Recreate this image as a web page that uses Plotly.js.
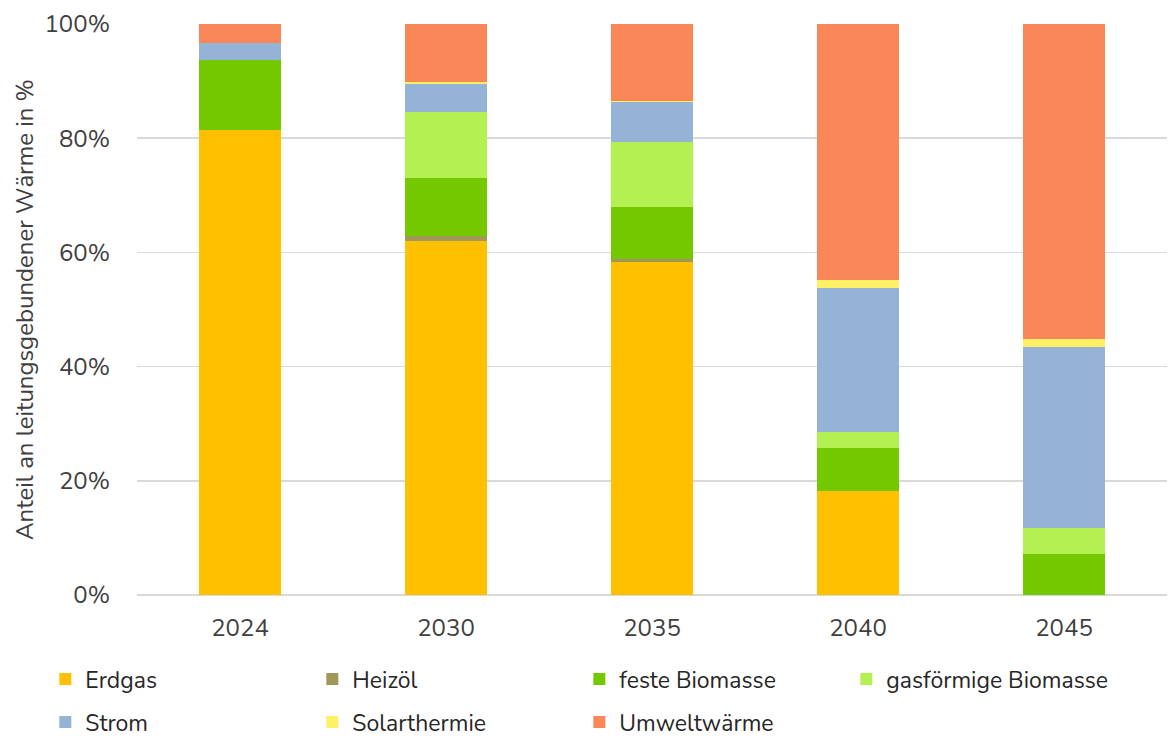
<!DOCTYPE html>
<html><head><meta charset="utf-8">
<script src="https://cdn.plot.ly/plotly-3.0.1.min.js"></script>
<style>html,body{margin:0;padding:0;background:#fff}#chart{width:1168px;height:738px}</style>
</head><body><div id="chart"></div>
<script>
const years = ['2024','2030','2035','2040','2045'];
const seriesNames = ['Erdgas','Heizöl','feste Biomasse','gasförmige Biomasse','Strom','Solarthermie','Umweltwärme'];
const erdgas     = [81.4, 62.0, 58.4, 18.3, 0];
const heizoel    = [0, 0.9, 0.4, 0, 0];
const festeBio   = [12.3, 10.1, 9.1, 7.5, 7.1];
const gasBio     = [0, 11.6, 11.4, 2.7, 4.6];
const strom      = [2.9, 4.9, 7.0, 25.3, 31.7];
const solar      = [0, 0.4, 0.3, 1.4, 1.4];
const umwelt     = [3.4, 10.1, 13.4, 44.8, 55.2];
const seriesValues = [erdgas, heizoel, festeBio, gasBio, strom, solar, umwelt];
const colors = ['#FFC000','#A39659','#74C800','#B3F052','#95B3D7','#FFF066','#FA8758'];

const font = 'Nunito, Lato, "Open Sans", sans-serif';
const legendKey = i => i === 0 ? 'legend' : 'legend' + (i + 1);
const traces = seriesNames.map((n,i)=>({
  type:'bar', name:n, x:years, y:seriesValues[i],
  marker:{color:colors[i], line:{width:0}},
  legend: legendKey(i), hoverinfo:'name+y'
}));

// legend grid: 4 columns, 2 rows
const colX = [0.0388, 0.2674, 0.4960, 0.7246];
const rowY = [0.080, 0.0217];

const layout = {
  width:1168, height:738,
  margin:{l:137, r:1, t:24, b:143, autoexpand:false},
  barmode:'stack', bargap:0.6,
  paper_bgcolor:'#fff', plot_bgcolor:'#fff',
  font:{family:font, color:'#404040'},
  xaxis:{type:'category', tickfont:{size:24, color:'#404040', family:font}, showgrid:false,
         showline:false, ticks:'', ticklabelstandoff:16, automargin:false},
  yaxis:{range:[0,100], dtick:20, ticksuffix:'%', tickfont:{size:24, color:'#404040', family:font},
         gridcolor:'#D9D9D9', gridwidth:1.5, zeroline:true, zerolinecolor:'#D9D9D9', zerolinewidth:1.5,
         ticklabelstandoff:26, automargin:false,
         title:{text:'Anteil an leitungsgebundener Wärme in %', font:{size:24, color:'#404040', family:font}, standoff:4}},
  showlegend:true
};
seriesNames.forEach((n,i)=>{
  layout[legendKey(i)] = {
    orientation:'h', xref:'container', yref:'container', xanchor:'left', yanchor:'middle',
    x: colX[i % 4], y: rowY[Math.floor(i / 4)],
    font:{family:font, size:23, color:'#262626'}, bgcolor:'rgba(0,0,0,0)', itemclick:false
  };
});
Plotly.newPlot('chart', traces, layout, {displayModeBar:false, staticPlot:true});
</script></body></html>
